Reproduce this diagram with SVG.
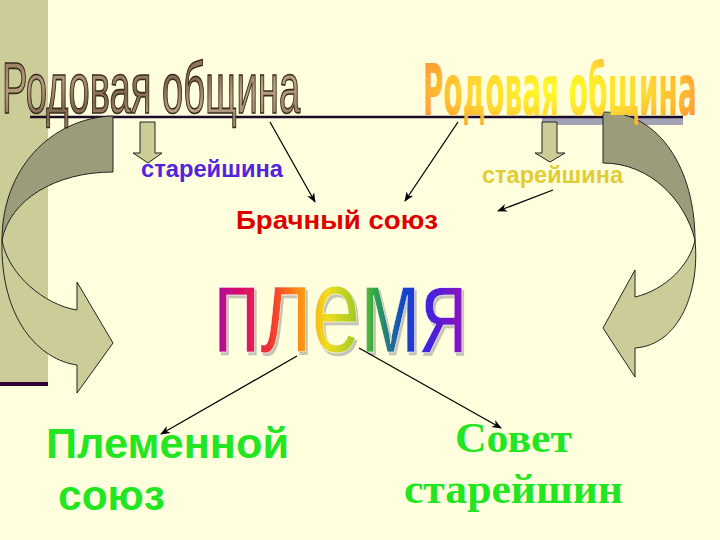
<svg xmlns="http://www.w3.org/2000/svg" width="720" height="540" viewBox="0 0 720 540">
<defs>
<style>
.sans{font-family:"Liberation Sans",Arial,sans-serif;font-weight:bold}
.serif{font-family:"Liberation Serif","Times New Roman",serif;font-weight:bold}
.conn{stroke:#000;stroke-width:1.3;fill:none;marker-end:url(#ah)}
.dark{fill:#9C9C7A;stroke:#222;stroke-width:1}
.light{fill:#CCCC99;stroke:#222;stroke-width:1}
.green{fill:#22E622}
</style>
<marker id="ah" viewBox="0 0 10 8" refX="9" refY="4" markerWidth="10" markerHeight="8" markerUnits="userSpaceOnUse" orient="auto">
<path d="M0,0 L10,4 L0,8 L3,4 Z" fill="#000"/>
</marker>
<filter id="shadow" x="-5%" y="-10%" width="115%" height="130%">
<feOffset in="SourceAlpha" dx="3" dy="3" result="off"/>
<feFlood flood-color="#C4C4B4"/>
<feComposite in2="off" operator="in" result="sh"/>
<feMerge><feMergeNode in="sh"/><feMergeNode in="SourceGraphic"/></feMerge>
</filter>
<linearGradient id="marble" x1="0" y1="0" x2="1" y2="1">
<stop offset="0" stop-color="#8C7358"/>
<stop offset="0.3" stop-color="#B59C80"/>
<stop offset="0.5" stop-color="#7E6550"/>
<stop offset="0.7" stop-color="#BCA488"/>
<stop offset="1" stop-color="#8A705A"/>
</linearGradient>
<radialGradient id="gold" cx="0.5" cy="0.5" r="0.6" gradientUnits="objectBoundingBox">
<stop offset="0" stop-color="#FFFF22"/>
<stop offset="0.55" stop-color="#FFD633"/>
<stop offset="1" stop-color="#FF9433"/>
</radialGradient>
<linearGradient id="rainbow" x1="0" y1="0" x2="1" y2="0">
<stop offset="0" stop-color="#AA1199"/>
<stop offset="0.12" stop-color="#DD1166"/>
<stop offset="0.22" stop-color="#EE3333"/>
<stop offset="0.33" stop-color="#FF8811"/>
<stop offset="0.45" stop-color="#EEDD22"/>
<stop offset="0.55" stop-color="#AACC22"/>
<stop offset="0.63" stop-color="#33AA44"/>
<stop offset="0.75" stop-color="#1144CC"/>
<stop offset="0.85" stop-color="#4422DD"/>
<stop offset="1" stop-color="#9911BB"/>
</linearGradient>
</defs>

<g id="background">
<rect x="0" y="0" width="720" height="540" fill="#FFFFDD"/>
<rect x="0" y="0" width="48" height="382" fill="#CCCC99"/>
<rect x="0" y="382" width="48" height="4" fill="#330033"/>
<rect x="542" y="118" width="141" height="7" fill="#A3A3B5"/>
<line x1="30" y1="117" x2="683" y2="117" stroke="#1A0A2A" stroke-width="2.5"/>
</g>

<g id="curved-arrow-left">
<path class="dark" d="M113,116 C50,118 2,170 2,240 C10,200 55,172 113,172 Z"/>
<path class="light" d="M2,240 C8,275 45,305 77,310 L77,282 L113,343 L77,393 L77,365 C40,360 0,320 2,240 Z"/>
</g>

<g id="curved-arrow-right">
<path class="dark" d="M603,112 C660,112 695,170 695,240 C685,200 650,163 603,163 Z"/>
<path class="light" d="M695,240 C700,290 680,345 635,348 L635,377 L603,328 L635,270 L635,297 C665,290 690,265 695,240 Z"/>
</g>

<g id="title-left" transform="translate(2,113) scale(0.515,1)">
<text x="0" y="0" font-family="Liberation Sans, Arial, sans-serif" font-size="73" fill="url(#marble)" stroke="#3A2A1A" stroke-width="1.6" textLength="579" lengthAdjust="spacingAndGlyphs">Родовая община</text>
</g>

<g id="title-right" transform="translate(423,115) scale(0.384,1)">
<text x="0" y="0" font-family="DejaVu Sans, sans-serif" font-weight="bold" font-size="72" fill="url(#gold)" textLength="713" lengthAdjust="spacingAndGlyphs">Родовая община</text>
</g>

<g id="elder-left">
<path class="light" d="M140,122 L155,122 L155,153 L162,153 L148,163 L133,153 L140,153 Z"/>
<text class="sans" x="141" y="177" font-size="24" fill="#5522DD" textLength="142" lengthAdjust="spacingAndGlyphs">старейшина</text>
</g>

<g id="elder-right">
<path class="light" d="M542,122 L557,122 L557,153 L565,153 L550,162 L535,153 L542,153 Z"/>
<text class="sans" x="482" y="183" font-size="24" fill="#E3CC33" textLength="141" lengthAdjust="spacingAndGlyphs">старейшина</text>
</g>

<g id="marriage-union">
<text class="sans" x="236" y="229" font-size="26" fill="#DD0000" textLength="202" lengthAdjust="spacingAndGlyphs">Брачный союз</text>
</g>

<g id="tribe" transform="translate(213,352) scale(0.72,1)">
<text x="0" y="0" font-family="Liberation Sans, Arial, sans-serif" font-size="122" fill="url(#rainbow)" stroke="#FFFFFF" stroke-width="0.6" filter="url(#shadow)" textLength="354" lengthAdjust="spacingAndGlyphs">племя</text>
</g>

<g id="tribal-union">
<text class="sans green" x="46" y="458" font-size="42" textLength="243" lengthAdjust="spacingAndGlyphs">Племенной</text>
<text class="sans green" x="58" y="510" font-size="42" textLength="107" lengthAdjust="spacingAndGlyphs">союз</text>
</g>

<g id="council">
<text class="serif green" x="455" y="452" font-size="42" textLength="117" lengthAdjust="spacingAndGlyphs">Совет</text>
<text class="serif green" x="404" y="503" font-size="43" textLength="219" lengthAdjust="spacingAndGlyphs">старейшин</text>
</g>

<g id="connectors">
<line class="conn" x1="270" y1="122" x2="315" y2="202"/>
<line class="conn" x1="458" y1="122" x2="405" y2="201"/>
<line class="conn" x1="553" y1="190" x2="498" y2="211"/>
<line class="conn" x1="297" y1="356" x2="161" y2="434"/>
<line class="conn" x1="359" y1="348" x2="501" y2="428"/>
</g>
</svg>
